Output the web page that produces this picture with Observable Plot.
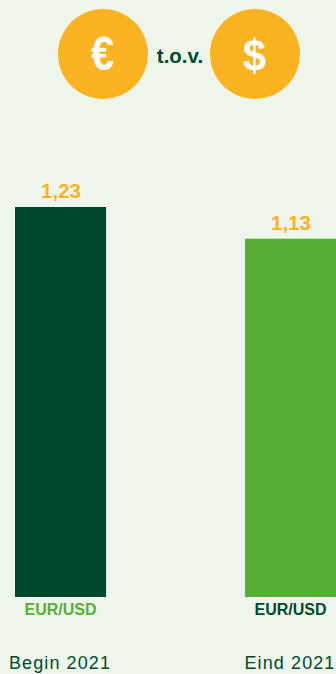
<!DOCTYPE html>
<html lang="nl">
<head>
<meta charset="utf-8">
<script src="https://cdn.jsdelivr.net/npm/d3@7"></script>
<script src="https://cdn.jsdelivr.net/npm/@observablehq/plot@0.6"></script>
<style>
  html, body { margin: 0; padding: 0; background: #eef6ec; overflow: hidden; }
  body { width: 336px; height: 674px; font-family: "Liberation Sans", Arial, sans-serif; }
  #head { position: relative; width: 336px; height: 110px; }
  .coin {
    position: absolute; top: 9px; width: 90px; height: 90px; border-radius: 50%;
    background: #fbb321; color: #fff; font-weight: 700;
    display: flex; align-items: center; justify-content: center;
  }
  .coin span { display: block; }
  #versus {
    position: absolute; left: 130px; width: 100px; top: 44px; text-align: center;
    color: #004a2b; font-weight: 700; font-size: 20.5px; line-height: 24px;
  }
  #chart svg { display: block; background: transparent; }
  #chart svg g[aria-label="x-axis tick label"] text { letter-spacing: 1.1px; }
</style>
</head>
<body>
<div id="head">
  <div class="coin" style="left:57.5px"><span style="font-size:49px;transform:translateY(-1px) scaleX(.85)">€</span></div>
  <div id="versus">t.o.v.</div>
  <div class="coin" style="left:209.5px"><span style="font-size:45px;transform:translateY(2px) scaleX(.92)">$</span></div>
</div>
<div id="chart"></div>
<script>
// EUR/USD koers aan het begin en einde van 2021
const periods = ["Begin 2021", "Eind 2021"];
const rates = [1.23, 1.13];
const rateLabels = ["1,23", "1,13"];
const pairLabel = "EUR/USD";
const barColors = ["#004a2b", "#57ae35"];
const pairColors = ["#57ae35", "#004a2b"];
const labelColor = "#fbb321";

const rows = periods.map((period, i) => ({
  period, rate: rates[i], label: rateLabels[i], fill: barColors[i], pairFill: pairColors[i]
}));

const chart = Plot.plot({
  width: 336,
  height: 564,
  margin: 0,
  style: { background: "transparent", fontFamily: "'Liberation Sans', Arial, sans-serif" },
  x: { domain: periods, range: [15, 336], paddingInner: 0.604, paddingOuter: 0, round: false, label: null },
  y: { domain: [0, 1.23], range: [487, 97], axis: null },
  marks: [
    Plot.barY(rows, { x: "period", y: "rate", fill: "fill" }),
    Plot.text(rows, {
      x: "period", y: "rate", text: "label", fill: labelColor,
      dy: -16, fontSize: 20.5, fontWeight: 700
    }),
    Plot.text(rows, {
      x: "period", y: () => 0, text: () => pairLabel, fill: "pairFill",
      dy: 12, dx: -0.5, fontSize: 16, fontWeight: 700
    }),
    Plot.axisX({
      anchor: "bottom", tickSize: 0, label: null, lineAnchor: "bottom",
      fontSize: 18, fill: "#004a2b", tickPadding: 0, dy: -6, dx: -1
    })
  ]
});
document.getElementById("chart").append(chart);
</script>
</body>
</html>
